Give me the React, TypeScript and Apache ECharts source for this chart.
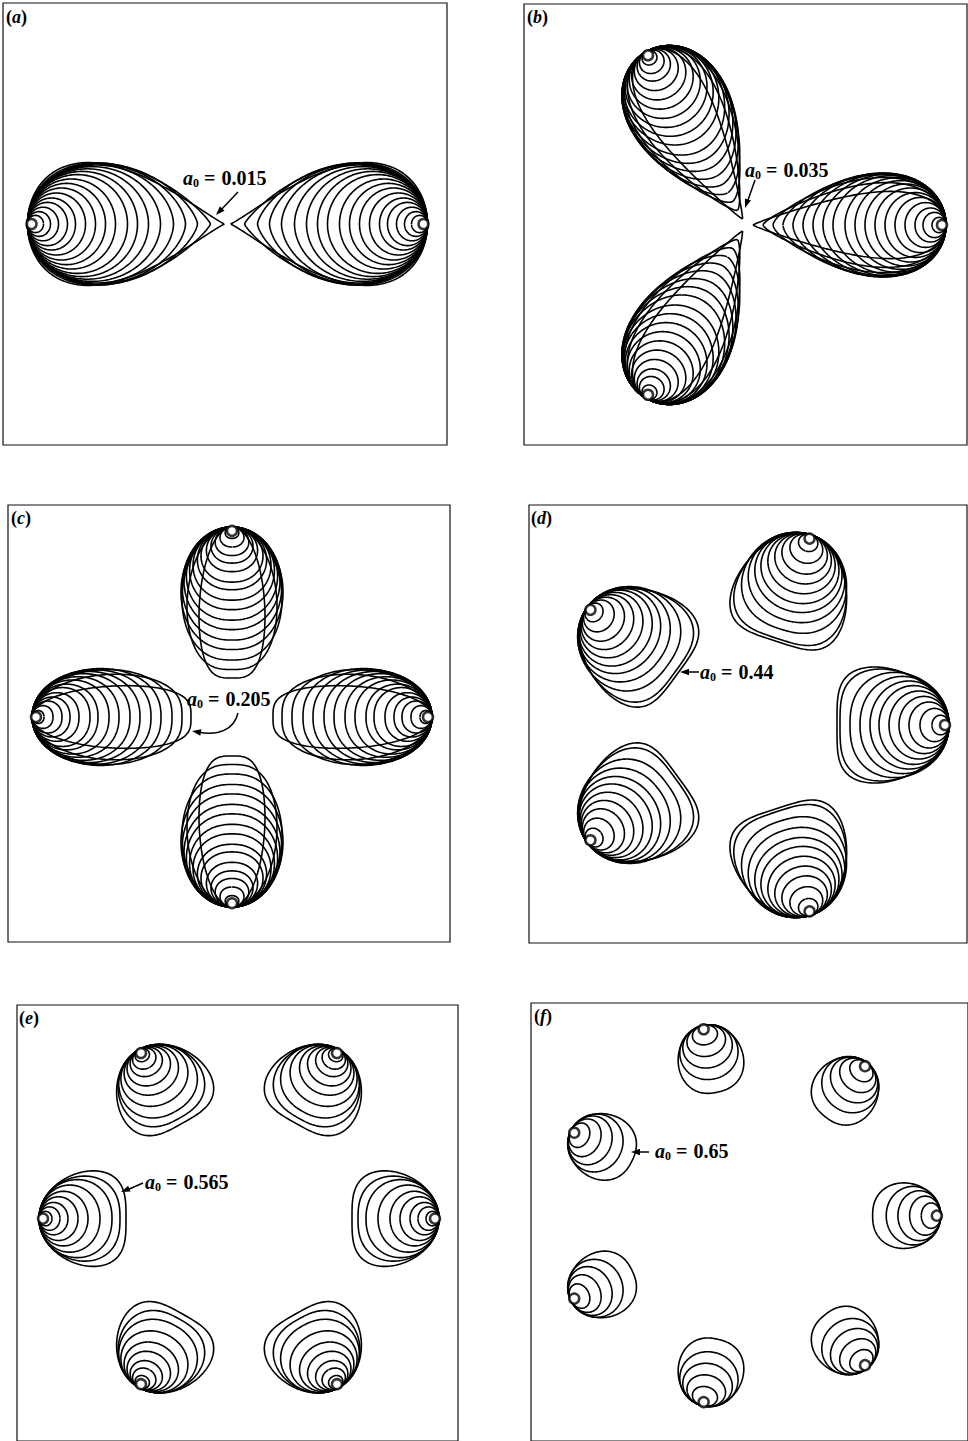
import React, { useEffect, useRef } from 'react';
import * as echarts from 'echarts';

// Corotating uniform vortex patches: N lobes per panel, each lobe a family of
// contours whose outer edge sits at r = 1 and whose inner edge sits at r = a.
const panelLetters = ['a', 'b', 'c', 'd', 'e', 'f'];
const lobeCounts = [2, 3, 4, 5, 6, 7];
const a0Values = [0.015, 0.035, 0.205, 0.44, 0.565, 0.65];
const a0Labels = ['0.015', '0.035', '0.205', '0.44', '0.565', '0.65'];

// inner-edge radius a of each contour (smallest patch first, limiting patch last)
const innerEdgeA = [0.92, 0.885, 0.845, 0.8, 0.76, 0.71, 0.66, 0.61, 0.56, 0.5, 0.45, 0.395, 0.335, 0.27, 0.21, 0.15, 0.085, 0.015];
const innerEdgeB = [0.93, 0.885, 0.845, 0.795, 0.745, 0.695, 0.645, 0.595, 0.545, 0.495, 0.435, 0.385, 0.335, 0.285, 0.235, 0.185, 0.135, 0.085, 0.035];
const innerEdgeC = [0.94, 0.895, 0.85, 0.81, 0.765, 0.71, 0.67, 0.615, 0.565, 0.51, 0.46, 0.405, 0.355, 0.3, 0.25, 0.205];
const innerEdgeD = [0.915, 0.855, 0.8, 0.75, 0.7, 0.65, 0.605, 0.555, 0.505, 0.455, 0.44];
const innerEdgeE = [0.935, 0.895, 0.855, 0.805, 0.755, 0.695, 0.635, 0.595, 0.565];
const innerEdgeF = [0.9, 0.84, 0.78, 0.72, 0.65];

// maximum half-width of each contour, same order
const halfWidthA = [0.043, 0.062, 0.084, 0.108, 0.13, 0.155, 0.18, 0.203, 0.225, 0.247, 0.263, 0.276, 0.287, 0.295, 0.3, 0.304, 0.306, 0.307];
const halfWidthB = [0.038, 0.063, 0.085, 0.112, 0.138, 0.162, 0.185, 0.205, 0.222, 0.236, 0.247, 0.254, 0.258, 0.26, 0.258, 0.252, 0.238, 0.212, 0.168];
const halfWidthC = [0.034, 0.06, 0.084, 0.105, 0.128, 0.155, 0.173, 0.195, 0.212, 0.228, 0.24, 0.249, 0.255, 0.25, 0.225, 0.165];
const halfWidthD = [0.049, 0.083, 0.115, 0.143, 0.17, 0.197, 0.22, 0.243, 0.263, 0.28, 0.29];
const halfWidthE = [0.037, 0.06, 0.083, 0.112, 0.14, 0.172, 0.2, 0.218, 0.245];
const halfWidthF = [0.065, 0.1, 0.128, 0.15, 0.168];

const innerEdges = [innerEdgeA, innerEdgeB, innerEdgeC, innerEdgeD, innerEdgeE, innerEdgeF];
const halfWidths = [halfWidthA, halfWidthB, halfWidthC, halfWidthD, halfWidthE, halfWidthF];

// profile exponent at the inner edge (0.5 = round, < 0.5 = flattened, 1 = corner)
const midExponent = [0.5, 0.5, 0.45, 0.5, 0.5, 0.5];
const limitExponent = [1.12, 0.85, 0.3, 0.25, 0.3, 0.42];
// fore-aft asymmetry of the limiting patch (positive = fuller towards r = 1)
const fullness = [0, 0.3, 0.05, 0, 0, 0];
// radius of the smallest patch marked at every lobe tip
const tipMarkR = 0.98;

// panel boxes and vortex-centre placement (pixels) with pixels per unit radius
const frames = [
  { left: 3, top: 3, right: 447, bottom: 445, cx: 227.5, cy: 224, sx: 200, sy: 200 },
  { left: 524, top: 4, right: 967, bottom: 445, cx: 746, cy: 225, sx: 200, sy: 200 },
  { left: 8, top: 505, right: 450, bottom: 942, cx: 232, cy: 717, sx: 200, sy: 190 },
  { left: 529, top: 505, right: 967, bottom: 943, cx: 749, cy: 725, sx: 200, sy: 200 },
  { left: 17, top: 1005, right: 458, bottom: 1452, cx: 239, cy: 1224, sx: 200, sy: 200 },
  { left: 531, top: 1003, right: 980, bottom: 1452, cx: 752, cy: 1221, sx: 200, sy: 200 },
];

const letterPos = [[6, 17], [527, 17], [11, 518], [531, 518], [19, 1018], [534, 1016]];
const labelPos = [[183, 178], [745, 170], [187, 699], [700, 672], [145, 1182], [655, 1151]];

function contour(a: number, W: number, pIn: number, pOut: number, e: number, phi: number, n = 110) {
  const c = (1 + a) / 2;
  const h = (1 - a) / 2;
  const prof = (u: number) =>
    Math.pow(Math.max(1 + u, 0), pIn) * Math.pow(Math.max(1 - u, 0), pOut) * (1 + e * u);
  let mx = 0;
  for (let i = 0; i <= 400; i++) mx = Math.max(mx, prof(-1 + (2 * i) / 400));
  const cs = Math.cos(phi);
  const sn = Math.sin(phi);
  const pts: number[][] = [];
  for (let i = 0; i <= 2 * n; i++) {
    const th = (Math.PI * i) / n;
    const u = -Math.cos(th);
    const side = Math.sin(th) >= 0 ? 1 : -1;
    const t = (side * W * prof(u)) / mx;
    const s = c + h * u;
    pts.push([s * cs - t * sn, s * sn + t * cs]);
  }
  pts[pts.length - 1] = pts[0];
  return pts;
}

function arrowHead(x: number, y: number, dx: number, dy: number, len = 9, half = 3.2) {
  const L = Math.hypot(dx, dy);
  const ux = dx / L;
  const uy = dy / L;
  return {
    type: 'polygon',
    shape: {
      points: [
        [x, y],
        [x - ux * len - uy * half, y - uy * len + ux * half],
        [x - ux * len + uy * half, y - uy * len - ux * half],
      ],
    },
    style: { fill: '#000' },
  };
}

const serif = '"Liberation Serif", "DejaVu Serif", serif';

function buildOption() {
  const series: any[] = [];
  frames.forEach((_, p) => {
    const N = lobeCounts[p];
    const A = innerEdges[p];
    const Wd = halfWidths[p];
    const a0 = a0Values[p];
    const tips: number[][] = [];
    for (let j = 0; j < N; j++) {
      const phi = (2 * Math.PI * j) / N;
      A.forEach((a, k) => {
        const tt = (1 - a) / (1 - a0);
        const pIn = midExponent[p] + (limitExponent[p] - midExponent[p]) * Math.pow(tt, 8);
        const e = fullness[p] * Math.pow(tt, 4);
        series.push({
          type: 'line',
          xAxisIndex: p,
          yAxisIndex: p,
          data: contour(a, Wd[k], pIn, 0.5, e, phi),
          showSymbol: false,
          symbol: 'none',
          silent: true,
          lineStyle: { color: '#000', width: 1.6 },
          z: 2,
        });
      });
      tips.push([tipMarkR * Math.cos(phi), tipMarkR * Math.sin(phi)]);
    }
    series.push({
      type: 'scatter',
      xAxisIndex: p,
      yAxisIndex: p,
      data: tips,
      symbol: 'circle',
      symbolSize: 10,
      silent: true,
      itemStyle: { color: '#fff', borderColor: '#000', borderWidth: 2.5 },
      z: 5,
    });
  });

  const graphic: any[] = [];
  panelLetters.forEach((l, p) => {
    graphic.push({
      type: 'text',
      x: letterPos[p][0],
      y: letterPos[p][1],
      style: {
        text: `{p|(}{l|${l}}{p|)}`,
        align: 'left',
        verticalAlign: 'middle',
        rich: {
          p: { fontFamily: serif, fontSize: 18, fontWeight: 'bold', fill: '#000' },
          l: { fontFamily: serif, fontSize: 18, fontStyle: 'italic', fontWeight: 'bold', fill: '#000' },
        },
      },
      z: 10,
    });
    graphic.push({
      type: 'text',
      x: labelPos[p][0],
      y: labelPos[p][1],
      style: {
        text: `{a|a}{s|0}{e|=}{n|${a0Labels[p]}}`,
        align: 'left',
        verticalAlign: 'middle',
        rich: {
          a: { fontFamily: serif, fontSize: 20, fontStyle: 'italic', fontWeight: 'bold', fill: '#000', lineHeight: 20 },
          s: { fontFamily: serif, fontSize: 12, fontWeight: 'bold', fill: '#000', lineHeight: 12, padding: [10, 5, 0, 0] },
          e: { fontFamily: serif, fontSize: 20, fontWeight: 'bold', fill: '#000', lineHeight: 20, padding: [0, 6, 0, 0] },
          n: { fontFamily: serif, fontSize: 20, fontWeight: 'bold', fill: '#000', lineHeight: 20 },
        },
      },
      z: 10,
    });
  });

  const stroke = { stroke: '#000', lineWidth: 1.5 };
  // pointers from each a0 label to the limiting contour
  graphic.push({ type: 'line', shape: { x1: 238, y1: 192, x2: 219, y2: 212 }, style: stroke });
  graphic.push(arrowHead(216, 215, -19, 20));
  graphic.push({ type: 'line', shape: { x1: 755, y1: 180, x2: 747, y2: 203 }, style: stroke });
  graphic.push(arrowHead(745, 208, -8, 23));
  graphic.push({
    type: 'bezierCurve',
    shape: { x1: 238, y1: 713, cpx1: 234, cpy1: 730, cpx2: 218, cpy2: 736, x2: 198, y2: 732 },
    style: { ...stroke, fill: null },
  });
  graphic.push(arrowHead(192, 731, -6, -1));
  graphic.push({ type: 'line', shape: { x1: 699, y1: 672, x2: 686, y2: 672 }, style: stroke });
  graphic.push(arrowHead(680, 672, -1, 0));
  graphic.push({ type: 'line', shape: { x1: 143, y1: 1183, x2: 127, y2: 1190 }, style: stroke });
  graphic.push(arrowHead(121, 1192, -22, 9));
  graphic.push({ type: 'line', shape: { x1: 649, y1: 1152, x2: 637, y2: 1152 }, style: stroke });
  graphic.push(arrowHead(631, 1152, -1, 0));

  return {
    animation: false,
    backgroundColor: '#fff',
    grid: frames.map((f) => ({
      left: f.left,
      top: f.top,
      width: f.right - f.left,
      height: f.bottom - f.top,
      show: true,
      borderColor: '#111',
      borderWidth: 1.2,
      backgroundColor: 'transparent',
      containLabel: false,
    })),
    xAxis: frames.map((f, i) => ({
      type: 'value',
      gridIndex: i,
      min: (f.left - f.cx) / f.sx,
      max: (f.right - f.cx) / f.sx,
      show: false,
    })),
    yAxis: frames.map((f, i) => ({
      type: 'value',
      gridIndex: i,
      min: (f.cy - f.bottom) / f.sy,
      max: (f.cy - f.top) / f.sy,
      show: false,
    })),
    series,
    graphic,
  };
}

export default function App() {
  const ref = useRef<HTMLDivElement>(null);
  useEffect(() => {
    const chart = echarts.init(ref.current!, null, { renderer: 'svg' });
    chart.setOption(buildOption() as any);
    return () => chart.dispose();
  }, []);
  return (
    <div
      ref={ref}
      style={{ position: 'absolute', left: 0, top: 0, width: 968, height: 1441, background: '#fff' }}
    />
  );
}
